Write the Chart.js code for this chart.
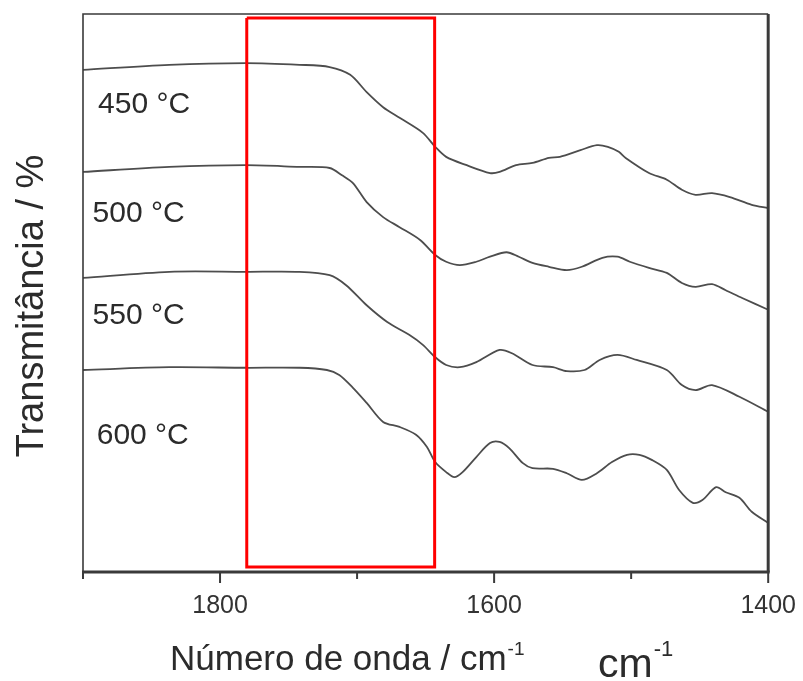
<!DOCTYPE html>
<html><head><meta charset="utf-8">
<script src="https://cdn.jsdelivr.net/npm/chart.js@4.4.1/dist/chart.umd.min.js"></script>
<style>html,body{margin:0;padding:0;background:#fff}#wrap{width:803px;height:681px}</style>
</head><body><div id="wrap"><canvas id="c" width="803" height="681"></canvas></div>
<script>
// ---- data (wavenumber in cm-1, transmittance in arbitrary offset units) ----
const wn450 = [1900,1837,1781,1742,1720,1705,1693,1681,1669,1652,1643,1635,1620,1603,1596,1584,1572,1560,1552,1537,1525,1517,1509,1504,1487,1474,1463,1453,1441,1428,1412,1400];
const t450  = [90.0,90.9,91.2,90.9,90.5,89.1,86.0,83.3,81.4,78.7,76.2,74.4,72.9,71.5,71.7,72.9,73.3,74.2,74.4,75.6,76.5,76.2,75.3,74.2,71.5,70.3,68.5,67.6,67.9,67.2,65.8,65.2];
const wn500 = [1900,1837,1781,1742,1720,1711,1703,1693,1681,1669,1654,1643,1635,1625,1613,1603,1591,1582,1572,1560,1547,1536,1521,1510,1501,1487,1474,1463,1453,1441,1431,1419,1400];
const t500  = [71.7,72.6,72.9,72.6,72.4,71.1,69.7,66.3,63.6,61.8,59.5,56.8,55.6,55.0,55.6,56.5,57.3,56.5,55.4,54.7,54.1,54.7,56.3,56.5,55.6,54.5,53.6,51.8,51.1,51.6,50.5,49.1,47.0];
const wn550 = [1900,1837,1781,1742,1720,1708,1693,1678,1662,1652,1643,1635,1625,1613,1596,1587,1572,1557,1547,1534,1523,1510,1496,1474,1463,1453,1441,1421,1400];
const t550  = [52.7,53.8,53.8,53.8,53.2,51.4,47.8,44.8,42.5,40.7,38.5,37.1,36.7,37.6,39.8,39.2,37.1,36.7,36.0,36.2,38.0,38.9,38.0,36.2,33.5,32.6,33.5,31.4,28.7];
const wn600 = [1900,1837,1781,1742,1722,1713,1703,1693,1681,1669,1657,1649,1643,1635,1629,1623,1613,1603,1596,1589,1579,1572,1557,1547,1536,1525,1514,1503,1494,1485,1474,1465,1455,1448,1438,1431,1421,1412,1400];
const t600  = [36.2,36.7,36.6,36.6,36.2,35.3,33.0,30.3,26.9,26.0,24.6,22.4,19.7,17.9,17.0,17.9,20.6,23.1,23.3,22.2,19.5,18.6,18.5,17.7,16.5,17.7,19.7,21.0,21.0,20.1,18.3,14.7,12.4,12.9,15.2,14.3,13.3,10.8,8.8];

const seriesLabels = ['450 °C','500 °C','550 °C','600 °C'];
const labelAnchorWn = [1889, 1893, 1893, 1890];
const labelAnchorT  = [84.1, 64.7, 46.4, 24.9];

const majorTicks = [1800, 1600, 1400];
const minorTicks = [1900, 1700, 1500];

// highlighted region (red box)
const boxWn = [1780.5, 1643.4];
const boxT  = [0.9, 99.3];

const xTitle = 'Número de onda / cm';
const yTitle = 'Transmitância / %';
const unitText = 'cm';
const supText = '-1';

// ---- build chart ----
const FONT = '"Liberation Sans", Arial, Helvetica, sans-serif';
const toPts = (xs, ys) => xs.map((x, i) => ({x: x, y: ys[i]}));
const curveStyle = {borderColor: '#4d4d4d', borderWidth: 1.8, pointRadius: 0, tension: 0.3, fill: false, order: 1};

const boxData = [
  {x: boxWn[0], y: boxT[1]}, {x: boxWn[1], y: boxT[1]},
  {x: boxWn[1], y: boxT[0]}, {x: boxWn[0], y: boxT[0]}, {x: boxWn[0], y: boxT[1]}
];

const decor = {
  id: 'decor',
  afterDraw(chart) {
    const ctx = chart.ctx, xs = chart.scales.x, ys = chart.scales.y, a = chart.chartArea;
    ctx.save();
    // frame
    ctx.strokeStyle = '#3a3a3a';
    ctx.lineWidth = 1.6;
    ctx.beginPath();
    ctx.moveTo(a.left, a.bottom); ctx.lineTo(a.left, a.top); ctx.lineTo(a.right, a.top);
    ctx.stroke();
    ctx.lineWidth = 3;
    ctx.beginPath(); ctx.moveTo(a.right, a.top); ctx.lineTo(a.right, a.bottom); ctx.stroke();
    ctx.beginPath(); ctx.moveTo(a.left - 1, a.bottom); ctx.lineTo(a.right + 1.5, a.bottom); ctx.stroke();
    // tick marks
    ctx.lineWidth = 2;
    majorTicks.forEach(v => { const p = xs.getPixelForValue(v); ctx.beginPath(); ctx.moveTo(p, a.bottom); ctx.lineTo(p, a.bottom + 11); ctx.stroke(); });
    minorTicks.forEach(v => { const p = xs.getPixelForValue(v); ctx.beginPath(); ctx.moveTo(p, a.bottom); ctx.lineTo(p, a.bottom + 7); ctx.stroke(); });
    // curve labels
    ctx.fillStyle = '#2b2b2b';
    ctx.font = '30px ' + FONT;
    ctx.textAlign = 'left'; ctx.textBaseline = 'alphabetic';
    seriesLabels.forEach((s, i) => {
      ctx.fillText(s, xs.getPixelForValue(labelAnchorWn[i]), ys.getPixelForValue(labelAnchorT[i]) + 0.358 * 30);
    });
    // y title
    ctx.save();
    ctx.translate(42.5, 306);
    ctx.rotate(-Math.PI / 2);
    ctx.textAlign = 'center';
    ctx.font = '38px ' + FONT;
    ctx.fillText(yTitle, 0, 0);
    ctx.restore();
    // x title with superscript
    ctx.textAlign = 'left';
    ctx.font = '35px ' + FONT;
    ctx.fillText(xTitle, 170, 670);
    let w = ctx.measureText(xTitle).width;
    ctx.font = '19px ' + FONT;
    ctx.fillText(supText, 170 + w + 1, 655);
    // extra unit label
    ctx.font = '41px ' + FONT;
    ctx.fillText(unitText, 598, 677);
    w = ctx.measureText(unitText).width;
    ctx.font = '22px ' + FONT;
    ctx.fillText(supText, 598 + w + 1, 656);
    ctx.restore();
  }
};

new Chart(document.getElementById('c'), {
  type: 'line',
  data: {
    datasets: [
      {label: 'box', data: boxData, borderColor: '#ff0000', borderWidth: 3, pointRadius: 0, tension: 0, fill: false, order: 0},
      Object.assign({label: seriesLabels[0], data: toPts(wn450, t450)}, curveStyle),
      Object.assign({label: seriesLabels[1], data: toPts(wn500, t500)}, curveStyle),
      Object.assign({label: seriesLabels[2], data: toPts(wn550, t550)}, curveStyle),
      Object.assign({label: seriesLabels[3], data: toPts(wn600, t600)}, curveStyle)
    ]
  },
  options: {
    responsive: false,
    animation: false,
    devicePixelRatio: 1,
    layout: {padding: {left: 83, top: 14, right: 34, bottom: 0}},
    plugins: {legend: {display: false}, tooltip: {enabled: false}},
    scales: {
      x: {
        type: 'linear', reverse: true, min: 1400, max: 1900,
        grid: {display: false, drawTicks: true, tickLength: 12},
        border: {display: false},
        ticks: {
          stepSize: 100, autoSkip: false, maxRotation: 0, padding: 7,
          color: '#333', font: {size: 25, family: FONT},
          callback: v => (majorTicks.includes(v) ? String(v) : '')
        },
        afterFit: s => { s.height = 109; }
      },
      y: {
        type: 'linear', min: 0, max: 100, display: false
      }
    }
  },
  plugins: [decor]
});
</script>
</body></html>
